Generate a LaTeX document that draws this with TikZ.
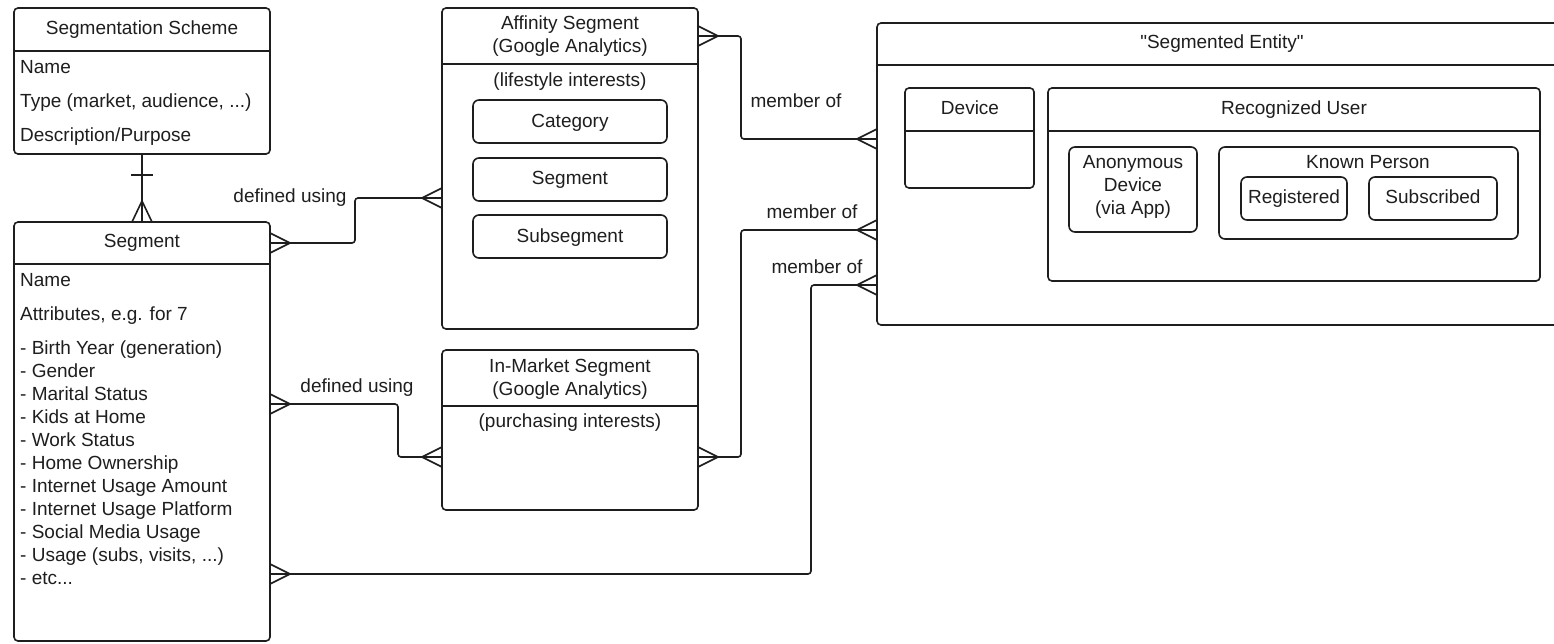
\documentclass[tikz,border=0pt]{standalone}
\usepackage{fontspec}
\setmainfont{Liberation Sans}[Ligatures=TeXOff]
\usetikzlibrary{calc}
\definecolor{ink}{HTML}{1E1E1E}
\tikzset{
  box/.style={draw=ink, line width=1.6pt, rounded corners=4pt, anchor=north west, inner sep=0pt, outer sep=0pt},
  ibox/.style={box, rounded corners=6pt},
  sep/.style={draw=ink, line width=1.6pt},
  conn/.style={draw=ink, line width=1.6pt, rounded corners=3pt},
  lbl/.style={font=\fontsize{19}{23}\selectfont, text=ink, inner sep=0pt, anchor=base},
  lbll/.style={lbl, anchor=base west},
  footR/.pic={\draw[ink, line width=1.6pt] (0,-10) -- (20,0) -- (0,10);},
  footL/.pic={\draw[ink, line width=1.6pt] (0,-10) -- (-20,0) -- (0,10);},
  footU/.pic={\draw[ink, line width=1.6pt] (-10,0) -- (0,-21) -- (10,0);},
}
\begin{document}
\begin{tikzpicture}[x=1pt, y=-1pt]
\useasboundingbox (0,0) rectangle (1554,643);
\clip (0,0) rectangle (1554,643);
\fill[white] (0,0) rectangle (1554,643);

% Segmentation Scheme
\node[box, minimum width=256, minimum height=146] (scheme) at (14,8) {};
\draw[sep] (scheme.west |- 0,51) -- (scheme.east |- 0,51);
\node[lbl] (schemeT) at (142,34) {Segmentation Scheme};
\node[lbll] (schemeA) at (20,73) {Name};
\node[lbll] (schemeB) at (20,107) {Type (market, audience, ...)};
\node[lbll] (schemeC) at (20,141) {Description/Purpose};

% Segment
\node[box, minimum width=256, minimum height=419] (seg) at (14,222) {};
\draw[sep] (seg.west |- 0,264) -- (seg.east |- 0,264);
\node[lbl] (segT) at (142,247) {Segment};
\node[lbll] (segA) at (20,286) {Name};
\node[lbll] (segB) at (20,320) {Attributes, e.g. for 7};
\node[lbll] (attr1) at (20,354) {- Birth Year (generation)};
\node[lbll] (attr2) at (20,377) {- Gender};
\node[lbll] (attr3) at (20,400) {- Marital Status};
\node[lbll] (attr4) at (20,423) {- Kids at Home};
\node[lbll] (attr5) at (20,446) {- Work Status};
\node[lbll] (attr6) at (20,469) {- Home Ownership};
\node[lbll] (attr7) at (20,492) {- Internet Usage Amount};
\node[lbll] (attr8) at (20,515) {- Internet Usage Platform};
\node[lbll] (attr9) at (20,538) {- Social Media Usage};
\node[lbll] (attr10) at (20,561) {- Usage (subs, visits, ...)};
\node[lbll] (attr11) at (20,584) {- etc...};

% Affinity Segment
\node[box, minimum width=256, minimum height=321] (aff) at (442,8) {};
\draw[sep] (aff.west |- 0,64) -- (aff.east |- 0,64);
\node[lbl] (affT1) at (570,29) {Affinity Segment};
\node[lbl] (affT2) at (570,52) {(Google Analytics)};
\node[lbl] (affS) at (570,86) {(lifestyle interests)};
\node[ibox, minimum width=194, minimum height=43] (cat) at (473,100) {};
\node[lbl] (catT) at (570,127) {Category};
\node[ibox, minimum width=194, minimum height=43] (sub1) at (473,158) {};
\node[lbl] (sub1T) at (570,184) {Segment};
\node[ibox, minimum width=194, minimum height=43] (sub2) at (473,215) {};
\node[lbl] (sub2T) at (570,242) {Subsegment};

% In-Market Segment
\node[box, minimum width=256, minimum height=160] (inm) at (442,350) {};
\draw[sep] (inm.west |- 0,406) -- (inm.east |- 0,406);
\node[lbl] (inmT1) at (570,372) {In-Market Segment};
\node[lbl] (inmT2) at (570,395) {(Google Analytics)};
\node[lbl] (inmS) at (570,427) {(purchasing interests)};

% Segmented Entity
\node[box, minimum width=720, minimum height=302] (ent) at (877,23) {};
\draw[sep] (ent.west |- 0,65) -- (1600,65);
\node[lbl] (entT) at (1222,48) {"Segmented Entity"};

\node[box, minimum width=129, minimum height=100] (dev) at (905,88) {};
\draw[sep] (dev.west |- 0,131) -- (dev.east |- 0,131);
\node[lbl] (devT) at (970,114) {Device};

\node[box, minimum width=492, minimum height=193] (ru) at (1048,88) {};
\draw[sep] (ru.west |- 0,131) -- (ru.east |- 0,131);
\node[lbl] (ruT) at (1294,114) {Recognized User};

\node[ibox, minimum width=128, minimum height=85] (anon) at (1069,147) {};
\node[lbl] (anonT1) at (1133,168) {Anonymous};
\node[lbl] (anonT2) at (1133,191) {Device};
\node[lbl] (anonT3) at (1133,214) {(via App)};

\node[ibox, minimum width=299, minimum height=92] (kp) at (1219,147) {};
\node[lbl] (kpT) at (1368,168) {Known Person};
\node[ibox, minimum width=106, minimum height=43] (reg) at (1241,177) {};
\node[lbl] (regT) at (1294,203) {Registered};
\node[ibox, minimum width=128, minimum height=43] (subs) at (1369,177) {};
\node[lbl] (subsT) at (1433,203) {Subscribed};

% Scheme -- Segment
\draw[conn] (scheme.south) -- (seg.north);
\draw[sep] (131,175) -- (153,175);
\pic at (seg.north) {footU};

% Segment -- Affinity
\draw[conn] (seg.east |- 0,243) -- ++(85,0) |- (aff.west |- 0,198);
\pic at (seg.east |- 0,243) {footR};
\pic at (aff.west |- 0,198) {footL};
\node[lbl] (lab1) at (290,202) {defined using};

% Segment -- In-Market
\draw[conn] (seg.east |- 0,404) -- ++(128,0) |- (inm.west |- 0,457);
\pic at (seg.east |- 0,404) {footR};
\pic at (inm.west |- 0,457) {footL};
\node[lbl] (lab2) at (357,392) {defined using};

% Segment -- Entity
\draw[conn] (seg.east |- 0,574) -- ++(541,0) |- (ent.west |- 0,285);
\pic at (seg.east |- 0,574) {footR};
\pic at (ent.west |- 0,285) {footL};
\node[lbl] (lab3) at (817,273) {member of};

% Affinity -- Entity
\draw[conn] (aff.east |- 0,36) -- ++(43,0) |- (ent.west |- 0,139);
\pic at (aff.east |- 0,36) {footR};
\pic at (ent.west |- 0,139) {footL};
\node[lbl] (lab4) at (796,107) {member of};

% In-Market -- Entity
\draw[conn] (inm.east |- 0,457) -- ++(43,0) |- (ent.west |- 0,230);
\pic at (inm.east |- 0,457) {footR};
\pic at (ent.west |- 0,230) {footL};
\node[lbl] (lab5) at (812,218) {member of};
\end{tikzpicture}
\end{document}
